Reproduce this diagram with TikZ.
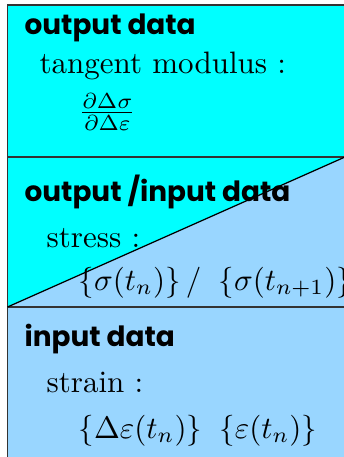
\documentclass[tikz,border=0pt]{standalone}
\usepackage{fontspec}
\newfontfamily\headfont{Poppins}
\usepackage{tikz}
\definecolor{outCol}{HTML}{00FFFF}
\definecolor{inCol}{HTML}{99D6FF}
\definecolor{frameCol}{HTML}{333333}
\tikzset{
  headText/.style={
    anchor=base west, inner sep=0pt,
    font=\headfont\bfseries\fontsize{9}{11}\selectfont,
  },
  bodyText/.style={
    anchor=base west, inner sep=0pt,
    font=\fontsize{10}{12}\selectfont,
  },
  frameLine/.style={draw=frameCol, line width=0.52pt},
}

\begin{document}
\begin{tikzpicture}[x=0.3226pt, y=-0.3226pt]
\useasboundingbox (0,0) rectangle (344,457);
\clip (0,0) rectangle (344,457);

% Corners
\coordinate (topLeft) at (7.5,5);
\coordinate (topRight) at (352,5);
\coordinate (midLeft) at (7.5,307);
\coordinate (midRight) at (345,157);
\coordinate (upLeft) at (7.5,157);
\coordinate (upRight) at (352,157);
\coordinate (lowRight) at (352,307);
\coordinate (botLeft) at (7.5,465);
\coordinate (botRight) at (352,465);

% Fills
\fill[outCol] (topLeft) rectangle (lowRight);
\fill[inCol] (midLeft) -- (midRight) -- (352,154) -- (lowRight) -- cycle;
\fill[inCol] (midLeft) rectangle (botRight);

% Frame
\draw[frameLine] (botLeft) -- (topLeft) -- (topRight);
\draw[frameLine] (upLeft) -- (upRight);
\draw[frameLine] (midLeft) -- (lowRight);
\draw[line width=0.4pt] (midLeft) -- (midRight);

% Output data
\node[headText] (outHead) at (24,34) {output data};
\node[bodyText] (tangentLabel) at (39,73) {tangent modulus :};
\node[bodyText, anchor=west] (tangentFrac) at (78,112)
  {$\frac{\partial\Delta\sigma}{\partial\Delta\varepsilon}$};

% Output / input data
\node[headText] (midHead) at (24,201) {output /input data};
\node[bodyText] (stressLabel) at (46,247) {stress :};
\node[bodyText] (stressVals) at (78,290)
  {$\{\sigma(t_n)\}\,/\;\;\{\sigma(t_{n+1})\}$};

% Input data
\node[headText] (inHead) at (24,346) {input data};
\node[bodyText] (strainLabel) at (46,392) {strain :};
\node[bodyText] (strainVals) at (78,438)
  {$\{\Delta\varepsilon(t_n)\}\;\;\{\varepsilon(t_n)\}$};

\end{tikzpicture}
\end{document}
